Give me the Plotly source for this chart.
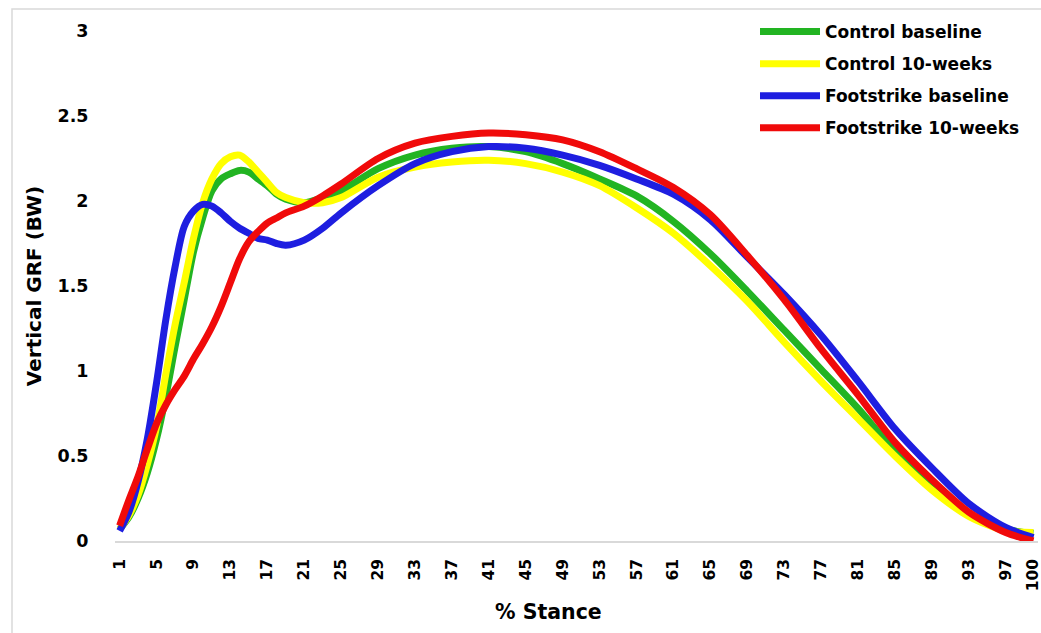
import plotly.graph_objects as go

# % stance (category) positions at which values were read
stance = [1, 2, 3, 4, 5, 6, 7, 8, 9, 10, 11, 12, 13, 14, 15, 16, 17, 18, 19, 21, 23, 25,
          29, 33, 37, 41, 45, 49, 53, 57, 61, 65, 69, 73, 77, 81, 85, 89, 93, 97, 100]

control_baseline = [0.07, 0.14, 0.25, 0.40, 0.60, 0.85, 1.14, 1.42, 1.70, 1.90, 2.06, 2.13, 2.16,
                    2.18, 2.17, 2.13, 2.09, 2.04, 2.01, 1.99, 2.02, 2.06, 2.19, 2.27, 2.31, 2.32,
                    2.29, 2.22, 2.13, 2.03, 1.88, 1.69, 1.47, 1.24, 1.01, 0.78, 0.53, 0.33, 0.16,
                    0.07, 0.045]

control_10wk = [0.07, 0.15, 0.27, 0.45, 0.67, 0.98, 1.27, 1.52, 1.78, 1.99, 2.13, 2.22, 2.26,
                2.27, 2.23, 2.17, 2.11, 2.05, 2.02, 1.99, 1.99, 2.02, 2.14, 2.20, 2.23, 2.24,
                2.22, 2.17, 2.09, 1.96, 1.81, 1.62, 1.41, 1.17, 0.94, 0.72, 0.50, 0.30, 0.145,
                0.06, 0.05]

footstrike_baseline = [0.06, 0.17, 0.35, 0.60, 0.93, 1.30, 1.61, 1.85, 1.94, 1.98, 1.97, 1.93, 1.88,
                       1.84, 1.81, 1.78, 1.77, 1.75, 1.74, 1.77, 1.84, 1.93, 2.09, 2.22, 2.29, 2.32,
                       2.31, 2.27, 2.21, 2.13, 2.04, 1.89, 1.67, 1.45, 1.21, 0.94, 0.66, 0.43, 0.22,
                       0.08, 0.02]

footstrike_10wk = [0.09, 0.24, 0.38, 0.54, 0.69, 0.80, 0.89, 0.97, 1.07, 1.16, 1.26, 1.38, 1.52,
                   1.66, 1.76, 1.82, 1.87, 1.90, 1.93, 1.97, 2.03, 2.10, 2.25, 2.34, 2.38, 2.40,
                   2.39, 2.36, 2.29, 2.19, 2.08, 1.92, 1.68, 1.42, 1.13, 0.86, 0.58, 0.36, 0.17,
                   0.05, 0.0]

series_names = ["Control baseline", "Control 10-weeks", "Footstrike baseline", "Footstrike 10-weeks"]
series_values = [control_baseline, control_10wk, footstrike_baseline, footstrike_10wk]
series_colors = ["#22b422", "#ffff00", "#1e1ee0", "#f00a0a"]

x_tick_vals = list(range(1, 98, 4)) + [100]
x_tick_text = [str(v) for v in x_tick_vals]

x_title = "% Stance"
y_title = "Vertical GRF (BW)"

FONT = "DejaVu Sans"

fig = go.Figure()
for i, (name, vals, col) in enumerate(zip(series_names, series_values, series_colors)):
    fig.add_trace(go.Scatter(
        x=stance, y=vals, name=name, mode="lines",
        line=dict(color=col, width=7, shape="spline", smoothing=0.8),
        legendgroup=f"g{i}",
    ))

# body margin is removed by the post script, so figure pixels == page pixels
W, H = 1041, 633
L, R, T, B = 115, 3, 31, 92
pw, ph = W - L - R, H - T - B


def px_x(p):  # page pixel -> paper x
    return (p - L) / pw


def px_y(p):  # page pixel -> paper y
    return (H - B - p) / ph


fig.update_layout(
    width=W, height=H,
    margin=dict(l=L, r=R, t=T, b=B, autoexpand=False),
    paper_bgcolor="white", plot_bgcolor="white",
    font=dict(family=FONT, color="#000000", weight="bold"),
    showlegend=True,
    legend=dict(
        x=px_x(755), y=px_y(14), xanchor="left", yanchor="top",
        bgcolor="rgba(0,0,0,0)", borderwidth=0,
        font=dict(family=FONT, size=17, color="#000000", weight="bold"),
        itemwidth=60, tracegroupgap=7,
    ),
    xaxis=dict(
        range=[0.5, 100.5], tickmode="array", tickvals=x_tick_vals, ticktext=x_tick_text,
        tickangle=-90, showgrid=False, zeroline=False, showline=True,
        linecolor="#d9d9d9", linewidth=1.5, ticks="outside", ticklen=10,
        tickcolor="rgba(0,0,0,0)", ticklabeloverflow="allow",
        tickfont=dict(family=FONT, size=15.5, color="#000000", weight="bold"),
    ),
    yaxis=dict(
        range=[0, 3], dtick=0.5, tick0=0, showgrid=False, zeroline=False, showline=False,
        ticks="outside", ticklen=22, tickcolor="rgba(0,0,0,0)",
        tickfont=dict(family=FONT, size=17.5, color="#000000", weight="bold"),
        title=dict(text=y_title, font=dict(family=FONT, size=20, color="#000000", weight="bold"), standoff=10),
    ),
    annotations=[dict(
        text=x_title, xref="paper", yref="paper", x=px_x(548), y=px_y(612),
        xanchor="center", yanchor="middle", showarrow=False,
        font=dict(family=FONT, size=20.5, color="#000000", weight="bold"),
    )],
    shapes=[dict(
        type="rect", xref="paper", yref="paper",
        x0=px_x(12), x1=px_x(1060), y0=px_y(650), y1=px_y(9),
        line=dict(color="#d9d9d9", width=1.5), fillcolor="rgba(0,0,0,0)", layer="below",
    )],
)

fig.write_html(
    "out.html",
    config={"displayModeBar": False},
    post_script="document.body.style.margin='0px';document.body.style.overflow='hidden';",
)
